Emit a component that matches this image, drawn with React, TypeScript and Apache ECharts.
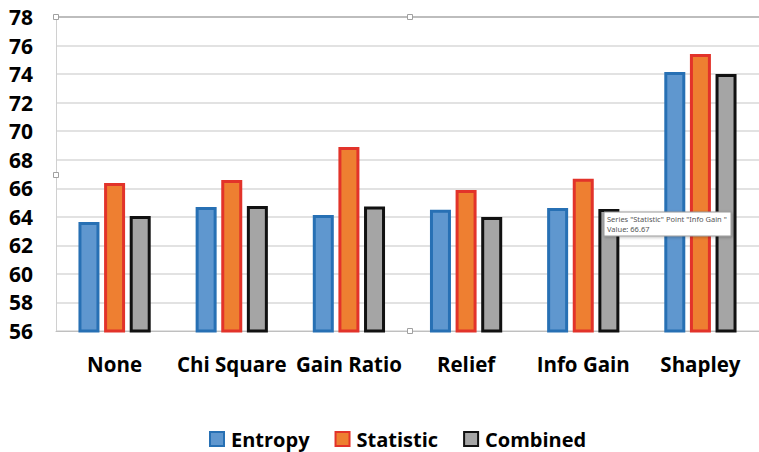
import React, { useEffect, useRef } from "react";
import * as echarts from "echarts";

const categories = ["None", "Chi Square", "Gain Ratio", "Relief", "Info Gain", "Shapley"];
const entropy = [63.63, 64.69, 64.12, 64.5, 64.62, 74.15];
const statistic = [66.37, 66.58, 68.89, 65.88, 66.67, 75.41];
const combined = [64.05, 64.76, 64.72, 63.98, 64.55, 74.0];

const FONT = "'Open Sans', 'Noto Sans', sans-serif";

export default function App() {
  const ref = useRef<HTMLDivElement>(null);

  useEffect(() => {
    if (!ref.current) return;
    const chart = echarts.init(ref.current, null, { renderer: "svg" });

    const barBase = {
      type: "bar" as const,
      barWidth: 21,
      barGap: "22%",
    };

    const handle = (x: number, y: number) => ({
      type: "rect",
      shape: { x: x - 2.5, y: y - 2.5, width: 5, height: 5 },
      style: { fill: "#fff", stroke: "#a0a0a0", lineWidth: 1 },
      z: 100,
    });

    chart.setOption({
      animation: false,
      backgroundColor: "#fff",
      grid: { left: 56, right: -8, top: 17, bottom: 121, containLabel: false },
      legend: {
        bottom: -2,
        left: 204,
        itemWidth: 14,
        itemHeight: 14,
        itemGap: 25,
        icon: "rect",
        textStyle: { fontFamily: FONT, fontWeight: "bold", fontSize: 20, color: "#000", padding: [0, 0, 0, 2] },
        data: ["Entropy", "Statistic", "Combined"],
      },
      xAxis: {
        type: "category",
        data: categories,
        axisTick: { show: false },
        axisLine: { show: true, lineStyle: { color: "#bfbfbf", width: 1 } },
        axisLabel: { fontFamily: FONT, fontWeight: "bold", fontSize: 20.5, color: "#000", margin: 22, interval: 0 },
      },
      yAxis: {
        type: "value",
        min: 56,
        max: 78,
        interval: 2,
        axisLine: { show: true, lineStyle: { color: "#d0d0d0" } },
        axisTick: { show: false },
        splitLine: { lineStyle: { color: "#d9d9d9", width: 1.5 } },
        axisLabel: { fontFamily: FONT, fontWeight: "bold", fontSize: 21, color: "#000", margin: 23 },
      },
      series: [
        {
          ...barBase,
          name: "Entropy",
          data: entropy,
          itemStyle: { color: "#5f97cf", borderColor: "#2770b4", borderWidth: 3 },
        },
        {
          ...barBase,
          name: "Statistic",
          data: statistic,
          itemStyle: { color: "#ee7f31", borderColor: "#e2332a", borderWidth: 3 },
        },
        {
          ...barBase,
          name: "Combined",
          data: combined,
          itemStyle: { color: "#a5a5a5", borderColor: "#111111", borderWidth: 3 },
        },
      ],
      graphic: [
        {
          type: "line",
          shape: { x1: 56, y1: 17, x2: 759, y2: 17 },
          style: { stroke: "#b0b0b0", lineWidth: 1.5 },
          z: 5,
        },
        handle(56, 17),
        handle(410, 17),
        handle(56, 175),
        handle(410, 331),
        {
          type: "rect",
          z: 100,
          shape: { x: 604, y: 212, width: 127, height: 24 },
          style: { fill: "#fff", stroke: "#9a9a9a", lineWidth: 1, shadowBlur: 3, shadowColor: "rgba(0,0,0,0.25)", shadowOffsetX: 1, shadowOffsetY: 1 },
        },
        {
          type: "text",
          z: 101,
          x: 607,
          y: 214,
          style: {
            text: 'Series "Statistic" Point "Info Gain "\nValue: 66.67',
            fontFamily: "'Noto Sans', sans-serif",
            fontSize: 7.5,
            lineHeight: 10,
            fill: "#555",
          },
        },
      ],
    });

    return () => chart.dispose();
  }, []);

  return <div ref={ref} style={{ width: 759, height: 452, position: "absolute", left: 0, top: 0 }} />;
}
